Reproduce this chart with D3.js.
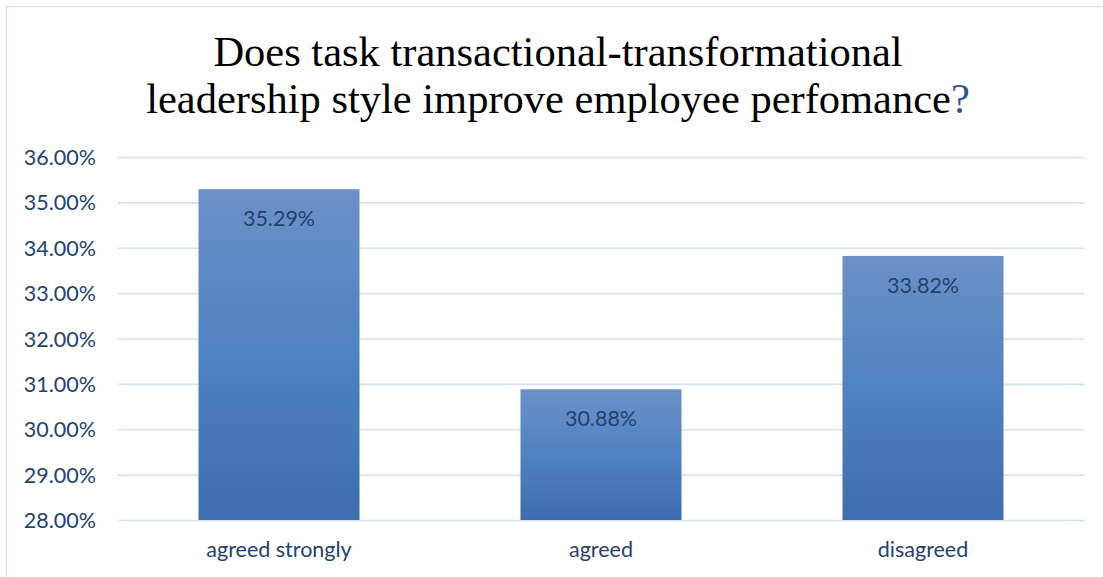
<!DOCTYPE html>
<html>
<head>
<meta charset="utf-8">
<script src="https://cdn.jsdelivr.net/npm/d3@7"></script>
<style>
  html, body { margin: 0; padding: 0; background: #ffffff; }
  svg { display: block; }
</style>
</head>
<body>
<svg id="chart" width="1103" height="577"></svg>
<script>
// Survey responses (percent of respondents)
const categories = ["agreed strongly", "agreed", "disagreed"];
const values = [35.29, 30.88, 33.82];
const yTicks = [28, 29, 30, 31, 32, 33, 34, 35, 36];
const titleLines = ["Does task transactional-transformational", "leadership style improve employee perfomance"];

const W = 1103, H = 577;
const plot = { left: 118, right: 1084, top: 157, bottom: 520 };
const labelFont = "Lato, 'Open Sans', sans-serif";
const labelSize = 21.5;
const textBlue = "#24426F";

const svg = d3.select("#chart");

// chart area frame (top and left edges visible)
svg.append("rect")
  .attr("x", 6.5).attr("y", 6.5)
  .attr("width", W + 20).attr("height", H + 20)
  .attr("fill", "#ffffff")
  .attr("stroke", "#D5E2F4").attr("stroke-width", 1.5);

// vertical gradient used by every bar
const grad = svg.append("defs").append("linearGradient")
  .attr("id", "barFill").attr("x1", 0).attr("y1", 0).attr("x2", 0).attr("y2", 1);
grad.append("stop").attr("offset", "0%").attr("stop-color", "#6C91C8");
grad.append("stop").attr("offset", "50%").attr("stop-color", "#4F82C2");
grad.append("stop").attr("offset", "100%").attr("stop-color", "#3D6DAE");

const x = d3.scaleBand()
  .domain(categories)
  .range([plot.left, plot.right])
  .paddingInner(0.5)
  .paddingOuter(0.25);

const y = d3.scaleLinear()
  .domain([d3.min(yTicks), d3.max(yTicks)])
  .range([plot.bottom, plot.top]);

const fmt = v => v.toFixed(2) + "%";

// y axis with gridlines
const yAxis = svg.append("g")
  .attr("transform", `translate(${plot.left},0)`)
  .call(d3.axisLeft(y)
    .tickValues(yTicks)
    .tickFormat(fmt)
    .tickSize(-(plot.right - plot.left))
    .tickPadding(22));
yAxis.select(".domain").remove();
yAxis.selectAll(".tick line")
  .attr("stroke", "#D6E1F2").attr("stroke-width", 1.6);
yAxis.selectAll(".tick text")
  .attr("fill", textBlue)
  .attr("font-family", labelFont)
  .attr("font-size", labelSize)
  .attr("dy", "0.35em");

// bars
svg.append("g").selectAll("rect")
  .data(values)
  .join("rect")
  .attr("x", (d, i) => x(categories[i]))
  .attr("y", d => y(d))
  .attr("width", x.bandwidth())
  .attr("height", d => y(y.domain()[0]) - y(d))
  .attr("fill", "url(#barFill)");

// value labels inside the bars
svg.append("g").selectAll("text")
  .data(values)
  .join("text")
  .attr("x", (d, i) => x(categories[i]) + x.bandwidth() / 2)
  .attr("y", d => y(d) + 37)
  .attr("text-anchor", "middle")
  .attr("fill", "#22406E")
  .attr("font-family", labelFont)
  .attr("font-size", labelSize)
  .text(d => fmt(d));

// category axis
const xAxis = svg.append("g")
  .attr("transform", `translate(0,${plot.bottom})`)
  .call(d3.axisBottom(x).tickSize(0).tickPadding(0));
xAxis.select(".domain").remove();
xAxis.selectAll(".tick text")
  .attr("fill", textBlue)
  .attr("font-family", labelFont)
  .attr("font-size", labelSize)
  .attr("dy", 0)
  .attr("y", 37);

// title
const title = svg.append("text")
  .attr("x", 558)
  .attr("text-anchor", "middle")
  .attr("font-family", "'Liberation Serif', 'Times New Roman', serif")
  .attr("font-size", 42.5)
  .attr("fill", "#000000");
title.append("tspan").attr("x", 558).attr("y", 66).text(titleLines[0]);
const line2 = title.append("tspan").attr("x", 558).attr("y", 113);
line2.append("tspan").text(titleLines[1]);
line2.append("tspan").attr("fill", "#2F5597").text("?");
</script>
</body>
</html>
